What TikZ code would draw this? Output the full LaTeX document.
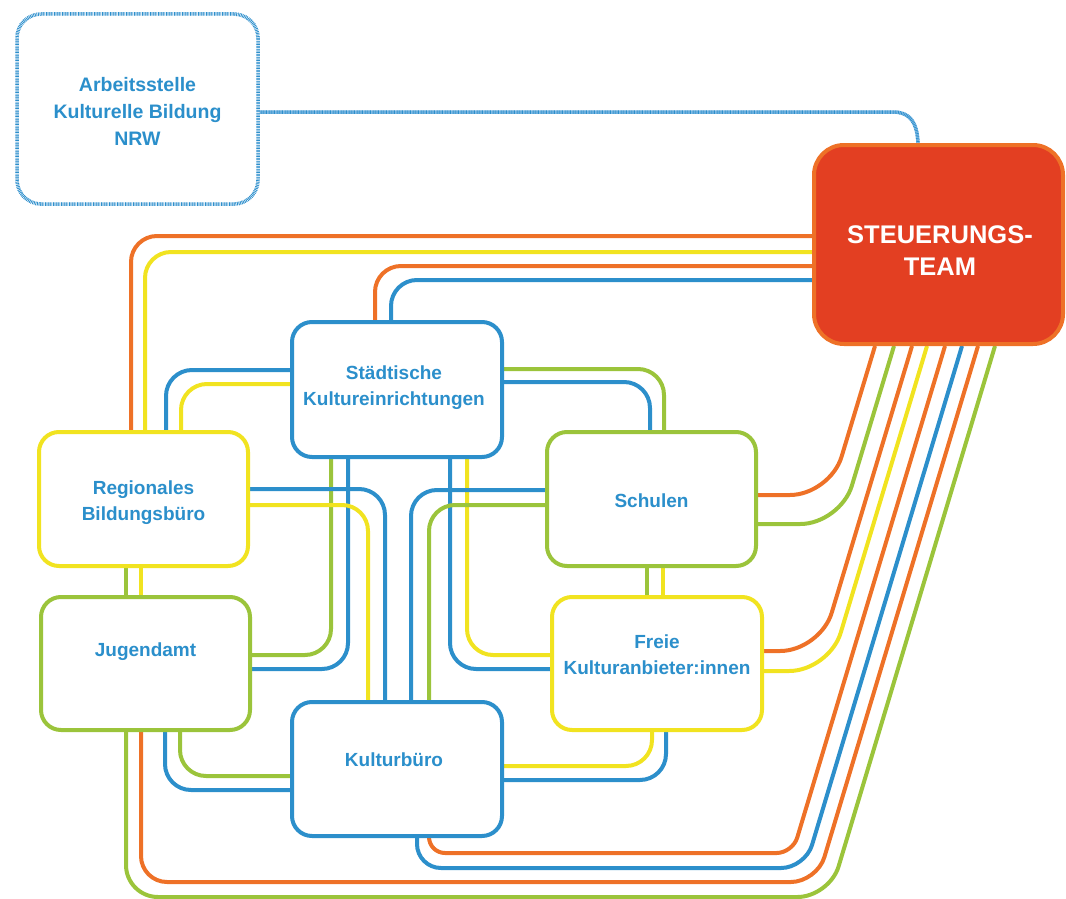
\documentclass[tikz,border=0pt]{standalone}
\usepackage{fontspec}
\setmainfont{Liberation Sans}
\usetikzlibrary{backgrounds}
\definecolor{cblue}{HTML}{2C8FCB}
\definecolor{cyellow}{HTML}{F1E320}
\definecolor{cgreen}{HTML}{9BC43B}
\definecolor{corange}{HTML}{EE7127}
\definecolor{cred}{HTML}{E33F22}
\definecolor{ltblue}{HTML}{8CC0E8}
\definecolor{txtblue}{HTML}{2B8FCB}
\begin{document}
\begin{tikzpicture}[x=1pt,y=-1pt,
  box/.style={draw=#1, line width=4pt, fill=white, rounded corners=20pt, inner sep=0pt},
  stbox/.style={draw=corange, fill=cred, line width=4pt, rounded corners=30pt, inner sep=0pt},
  akbbox/.style={preaction={fill=white, draw=ltblue, line width=3.5pt}, draw=cblue, line width=3.5pt, dash pattern=on 0.7pt off 0.9pt, rounded corners=24pt, inner sep=0pt},
  akbline/.style={preaction={draw=ltblue, line width=3.5pt}, draw=cblue, line width=3.5pt, dash pattern=on 0.7pt off 0.9pt},
  txt/.style={align=center, font=\fontsize{19}{26}\selectfont\bfseries, text=txtblue, inner sep=0pt},
  ln/.style={draw=#1, line width=4pt, rounded corners=26pt},
]
\useasboundingbox (0,0) rectangle (1066,899);

% boxes
\node[box=cblue, minimum width=210pt, minimum height=135pt] (SK) at (397,389.5) {};
\node[box=cyellow, minimum width=209pt, minimum height=134pt] (RB) at (143.5,499) {};
\node[box=cgreen, minimum width=209pt, minimum height=133pt] (JA) at (145.5,663.5) {};
\node[box=cblue, minimum width=210pt, minimum height=134pt] (KB) at (397,769) {};
\node[box=cgreen, minimum width=209pt, minimum height=134pt] (SCH) at (651.5,499) {};
\node[box=cyellow, minimum width=210pt, minimum height=133pt] (FK) at (657,663.5) {};
\node[stbox, minimum width=249pt, minimum height=199pt] (ST) at (938.5,244.5) {};
\node[akbbox, minimum width=241pt, minimum height=190pt] (AKB) at (137.5,109) {};

% texts
\node[txt, font=\fontsize{19.5}{27}\selectfont\bfseries] (AKBt) at ([yshift=-2pt]AKB.center) {Arbeitsstelle\\Kulturelle Bildung\\NRW};
\node[txt, text=white, font=\fontsize{25.5}{32}\selectfont\bfseries] (STt) at ([xshift=1.5pt,yshift=-6.5pt]ST.center) {STEUERUNGS-\\TEAM};
\node[txt] (SKt) at ([xshift=-3pt,yshift=2pt]SK.center) {Städtische\\Kultureinrichtungen};
\node[txt] (RBt) at ([yshift=-4pt]RB.center) {Regionales\\Bildungsbüro};
\node[txt] (JAt) at ([yshift=11.5pt]JA.center) {Jugendamt};
\node[txt] (KBt) at ([xshift=-3pt,yshift=9pt]KB.center) {Kulturbüro};
\node[txt] (SCHt) at ([yshift=-2pt]SCH.center) {Schulen};
\node[txt] (FKt) at ([yshift=9pt]FK.center) {Freie\\Kulturanbieter:innen};

\begin{scope}[on background layer]
% Arbeitsstelle -> Steuerungsteam
\path[akbline] (AKB.east |- 0,112) -- (893,112) .. controls (910,112) and (917,122) .. (ST.north -| 918,0);

% Steuerungsteam left side
\path[ln=corange] (ST.west |- 0,236) -| (RB.north -| 131,0);
\path[ln=cyellow] (ST.west |- 0,252) -| (RB.north -| 145,0);
\path[ln=corange] (ST.west |- 0,266) -| (SK.north -| 375,0);
\path[ln=cblue]   (ST.west |- 0,280) -| (SK.north -| 391,0);

% Staedtische left/right
\path[ln=cblue]   (SK.west |- 0,370) -| (RB.north -| 166,0);
\path[ln=cyellow] (SK.west |- 0,384) -| (RB.north -| 181,0);
\path[ln=cgreen]  (SK.east |- 0,369) -| (SCH.north -| 664,0);
\path[ln=cblue]   (SK.east |- 0,382) -| (SCH.north -| 650,0);

% Staedtische bottom
\path[ln=cgreen]  (SK.south -| 331,0) |- (JA.east |- 0,655);
\path[ln=cblue]   (SK.south -| 348,0) |- (JA.east |- 0,669);
\path[ln=cblue]   (SK.south -| 450,0) |- (FK.west |- 0,669);
\path[ln=cyellow] (SK.south -| 467,0) |- (FK.west |- 0,655);

% Regionales right -> Kulturbuero
\path[ln=cblue]   (RB.east |- 0,489) -| (KB.north -| 385,0);
\path[ln=cyellow] (RB.east |- 0,505) -| (KB.north -| 368,0);

% Kulturbuero top -> Schulen
\path[ln=cblue]   (KB.north -| 411,0) |- (SCH.west |- 0,490);
\path[ln=cgreen]  (KB.north -| 429,0) |- (SCH.west |- 0,505);

% short vertical links
\path[ln=cgreen]  (RB.south -| 126,0) -- (JA.north -| 126,0);
\path[ln=cyellow] (RB.south -| 141,0) -- (JA.north -| 141,0);
\path[ln=cgreen]  (SCH.south -| 647,0) -- (FK.north -| 647,0);
\path[ln=cyellow] (SCH.south -| 663,0) -- (FK.north -| 663,0);

% Jugendamt bottom -> Kulturbuero
\path[ln=cblue]   (JA.south -| 165,0) |- (KB.west |- 0,790);
\path[ln=cgreen]  (JA.south -| 180,0) |- (KB.west |- 0,776);

% Freie bottom -> Kulturbuero
\path[ln=cyellow] (FK.south -| 652,0) |- (KB.east |- 0,766);
\path[ln=cblue]   (FK.south -| 666,0) |- (KB.east |- 0,780);

% to Steuerungsteam bottom (diagonals)
\path[ln=corange, rounded corners=40pt] (SCH.east |- 0,495) -- (830,495) -- (ST.south -| 875,0);
\path[ln=cgreen,  rounded corners=40pt] (SCH.east |- 0,524) -- (840.3,524) -- (ST.south -| 894,0);
\path[ln=corange, rounded corners=40pt] (FK.east |- 0,651) -- (820.2,651) -- (ST.south -| 912,0);
\path[ln=cyellow, rounded corners=40pt] (FK.east |- 0,671) -- (829.2,671) -- (ST.south -| 927,0);
\path[ln=corange] (KB.south -| 429,0) [rounded corners=16pt] |- (792.6,853) [rounded corners=40pt] -- (ST.south -| 945,0);
\path[ln=cblue]   (KB.south -| 417,0) [rounded corners=24pt] |- (805.1,868) [rounded corners=42pt] -- (ST.south -| 962,0);
\path[ln=corange] (JA.south -| 141,0) [rounded corners=26pt] |- (816.9,882) [rounded corners=44pt] -- (ST.south -| 978,0);
\path[ln=cgreen]  (JA.south -| 126,0) [rounded corners=32pt] |- (829.4,897) [rounded corners=48pt] -- (ST.south -| 995,0);
\end{scope}
\end{tikzpicture}
\end{document}
